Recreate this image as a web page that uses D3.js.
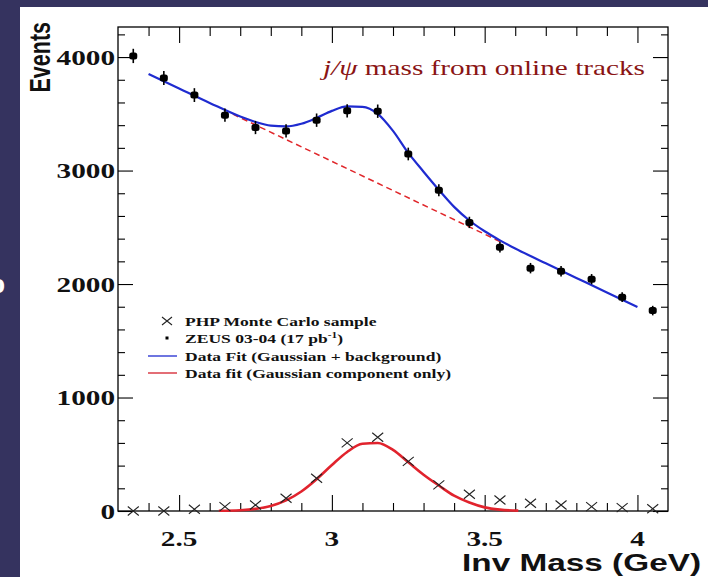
<!DOCTYPE html>
<html>
<head>
<meta charset="utf-8">
<script src="https://cdn.jsdelivr.net/npm/d3@7"></script>
<style>
  body { margin: 0; background: #35335f; }
  svg { display: block; }
</style>
</head>
<body>
<svg id="chart" width="708" height="577"></svg>
<script>
// bin centres (GeV) and counts
var massBins   = [2.35, 2.45, 2.55, 2.65, 2.75, 2.85, 2.95, 3.05, 3.15, 3.25, 3.35, 3.45, 3.55, 3.65, 3.75, 3.85, 3.95, 4.05];
var zeusEvents = [4010, 3815, 3665, 3488, 3379, 3349, 3444, 3526, 3523, 3146, 2826, 2543, 2325, 2140, 2113, 2043, 1884, 1766];
var zeusErrors = [63, 62, 61, 59, 58, 58, 59, 59, 59, 56, 53, 50, 48, 46, 46, 45, 43, 42];
var mcEvents   = [0, 0, 15, 38, 53, 112, 289, 600, 650, 437, 230, 148, 97, 68, 53, 38, 30, 20];

// fitted curves
var fitMass   = [2.40, 2.50, 2.60, 2.70, 2.75, 2.80, 2.85, 2.90, 2.95, 3.00, 3.05, 3.10, 3.15, 3.20, 3.25, 3.30, 3.35, 3.40, 3.45, 3.50, 3.55, 3.60, 3.70, 3.80, 3.90, 4.00];
var fitEvents = [3851, 3723, 3596, 3476, 3428, 3396, 3389, 3412, 3464, 3526, 3565, 3562, 3500, 3350, 3155, 2990, 2830, 2680, 2560, 2465, 2385, 2313, 2183, 2054, 1925, 1797];
var bgMass    = [2.676, 3.55];
var bgEvents  = [3497, 2375];
var gausMass   = [2.63, 2.70, 2.75, 2.80, 2.85, 2.90, 2.95, 3.00, 3.05, 3.10, 3.15, 3.20, 3.25, 3.30, 3.35, 3.40, 3.45, 3.50, 3.55, 3.61];
var gausEvents = [2, 7, 19, 45, 94, 172, 280, 405, 520, 592, 599, 539, 430, 320, 225, 135, 75, 32, 12, 3];

var xTickLabels = [2.5, 3, 3.5, 4];
var yTickLabels = [0, 1000, 2000, 3000, 4000];
var legendLabels = ["PHP Monte Carlo sample", "ZEUS 03-04 (17 pb", "Data Fit (Gaussian + background)", "Data fit (Gaussian component only)"];

var SX = 1.33;   // the original picture is stretched sideways
var serif = "'Liberation Serif', 'Times New Roman', serif";
var sans = "'Liberation Sans', Arial, sans-serif";

var svg = d3.select("#chart");

svg.append("rect").attr("x", 20).attr("y", 7).attr("width", 688).attr("height", 570).attr("fill", "#fff");

// piece of slide text sticking out on the left
svg.append("text")
  .attr("transform", "translate(5,293) scale(" + SX + ",1)")
  .attr("text-anchor", "end").attr("font-family", serif).attr("font-weight", "bold")
  .attr("font-size", 22).attr("fill", "#fff").text("0");

var x = d3.scaleLinear().domain([2.3, 4.1]).range([118, 668]);
var y = d3.scaleLinear().domain([0, 4265]).range([511, 27]);

var xMajor = d3.range(2.5, 4.01, 0.5);
var xMinor = d3.range(2.4, 4.05, 0.1).filter(function(v){ return Math.abs(v*2 - Math.round(v*2)) > 0.01; });
var yMajor = d3.range(0, 4001, 1000);
var yMinor = d3.range(200, 4265, 200).filter(function(v){ return v % 1000 != 0; });

function tickAxis(axis, vals, size, tx, ty){
  var g = svg.append("g")
    .attr("transform", "translate(" + tx + "," + ty + ")")
    .call(axis.tickValues(vals).tickSize(size).tickFormat(""));
  g.select(".domain").remove();
  g.selectAll("line").attr("stroke", "#000").attr("stroke-width", 1.1);
}

tickAxis(d3.axisRight(y), yMajor, 15, 118, 0);
tickAxis(d3.axisRight(y), yMinor, 7, 118, 0);
tickAxis(d3.axisLeft(y), yMajor, 15, 668, 0);
tickAxis(d3.axisLeft(y), yMinor, 7, 668, 0);
tickAxis(d3.axisBottom(x), xMajor, 16, 0, 27);
tickAxis(d3.axisBottom(x), xMinor, 9, 0, 27);
tickAxis(d3.axisTop(x), xMajor, 16, 0, 511);
tickAxis(d3.axisTop(x), xMinor, 8, 0, 511);

svg.append("rect")
  .attr("x", x(2.3)).attr("y", y(4265))
  .attr("width", x(4.1) - x(2.3)).attr("height", y(0) - y(4265))
  .attr("fill", "none").attr("stroke", "#000").attr("stroke-width", 1.3);

// tick labels
svg.selectAll(".ylab").data(yTickLabels).enter().append("text")
  .attr("class", "ylab")
  .attr("transform", function(d){ return "translate(115," + (y(d) + 7.5) + ") scale(" + SX + ",1)"; })
  .attr("text-anchor", "end").attr("font-family", serif).attr("font-weight", "bold")
  .attr("font-size", 22).attr("fill", "#111").text(function(d){ return d; });

svg.selectAll(".xlab").data(xTickLabels).enter().append("text")
  .attr("class", "xlab")
  .attr("transform", function(d){ return "translate(" + x(d) + ",546) scale(" + SX + ",1)"; })
  .attr("text-anchor", "middle").attr("font-family", serif).attr("font-weight", "bold")
  .attr("font-size", 22).attr("fill", "#111").text(function(d){ return d; });

svg.append("text")
  .attr("transform", "translate(701,571) scale(1.45,1)")
  .attr("text-anchor", "end").attr("font-family", sans).attr("font-weight", "bold")
  .attr("font-size", 23).attr("fill", "#111").text("Inv Mass (GeV)");

svg.append("text")
  .attr("transform", "translate(50,22) scale(" + SX + ",1) rotate(-90)")
  .attr("text-anchor", "end").attr("font-family", sans).attr("font-weight", "bold")
  .attr("font-size", 21.5).attr("fill", "#111").text("Events");

// title
var title = svg.append("text")
  .attr("transform", "translate(645,75) scale(" + SX + ",1)")
  .attr("text-anchor", "end").attr("font-family", serif)
  .attr("font-size", 22).attr("fill", "#8a1414");
title.append("tspan").attr("font-style", "italic").text("j/ψ");
title.append("tspan").text(" mass from online tracks");

var line = d3.line()
  .x(function(d){ return x(d[0]); })
  .y(function(d){ return y(d[1]); })
  .curve(d3.curveMonotoneX);

// background line (dashed)
svg.append("path")
  .datum(d3.zip(bgMass, bgEvents))
  .attr("d", line.curve(d3.curveLinear))
  .attr("fill", "none").attr("stroke", "#e0262a").attr("stroke-width", 1.5)
  .attr("stroke-dasharray", "6,4");

line.curve(d3.curveMonotoneX);

// Gaussian + background fit
svg.append("path")
  .datum(d3.zip(fitMass, fitEvents))
  .attr("d", line)
  .attr("fill", "none").attr("stroke", "#1f2bd0").attr("stroke-width", 2.2);

// Gaussian component
svg.append("path")
  .datum(d3.zip(gausMass, gausEvents))
  .attr("d", line)
  .attr("fill", "none").attr("stroke", "#e1232d").attr("stroke-width", 2.6);

// MC crosses
var cross = svg.append("g");
massBins.forEach(function(m, i){
  var cx = x(m), cy = y(mcEvents[i]);
  cross.append("path")
    .attr("d", "M" + (cx - 5.5) + "," + (cy - 4.5) + "L" + (cx + 5.5) + "," + (cy + 4.5) +
               "M" + (cx - 5.5) + "," + (cy + 4.5) + "L" + (cx + 5.5) + "," + (cy - 4.5))
    .attr("stroke", "#222").attr("stroke-width", 1.1).attr("fill", "none");
});

// ZEUS data with error bars
var pts = svg.append("g");
pts.selectAll("line").data(massBins).enter().append("line")
  .attr("x1", function(d){ return x(d); }).attr("x2", function(d){ return x(d); })
  .attr("y1", function(d, i){ return y(zeusEvents[i] + zeusErrors[i]); })
  .attr("y2", function(d, i){ return y(zeusEvents[i] - zeusErrors[i]); })
  .attr("stroke", "#000").attr("stroke-width", 1.6);
pts.selectAll("rect").data(massBins).enter().append("rect")
  .attr("x", function(d){ return x(d) - 4; })
  .attr("y", function(d, i){ return y(zeusEvents[i]) - 3.5; })
  .attr("width", 8).attr("height", 7).attr("rx", 2.5).attr("fill", "#000");

// legend
var legY = [321, 338, 356, 373];
var leg = svg.append("g");
leg.append("path")
  .attr("d", "M162,317L172,325M162,325L172,317")
  .attr("stroke", "#222").attr("stroke-width", 1.1);
leg.append("rect").attr("x", 165.5).attr("y", legY[1] - 1.5).attr("width", 3).attr("height", 3).attr("fill", "#000");
leg.append("line").attr("x1", 148).attr("x2", 177).attr("y1", legY[2]).attr("y2", legY[2])
  .attr("stroke", "#1f2bd0").attr("stroke-width", 1.3);
leg.append("line").attr("x1", 148).attr("x2", 177).attr("y1", legY[3]).attr("y2", legY[3])
  .attr("stroke", "#d41f2c").attr("stroke-width", 1.3);

legendLabels.forEach(function(t, i){
  var tx = leg.append("text")
    .attr("transform", "translate(185," + (legY[i] + 4.5) + ") scale(" + SX + ",1)")
    .attr("font-family", serif).attr("font-weight", "bold")
    .attr("font-size", 13.2).attr("fill", "#111").text(t);
  if (i == 1) {
    tx.append("tspan").attr("dy", -5).attr("font-size", 8.5).text("-1");
    tx.append("tspan").attr("dy", 5).text(")");
  }
});
</script>
</body>
</html>
